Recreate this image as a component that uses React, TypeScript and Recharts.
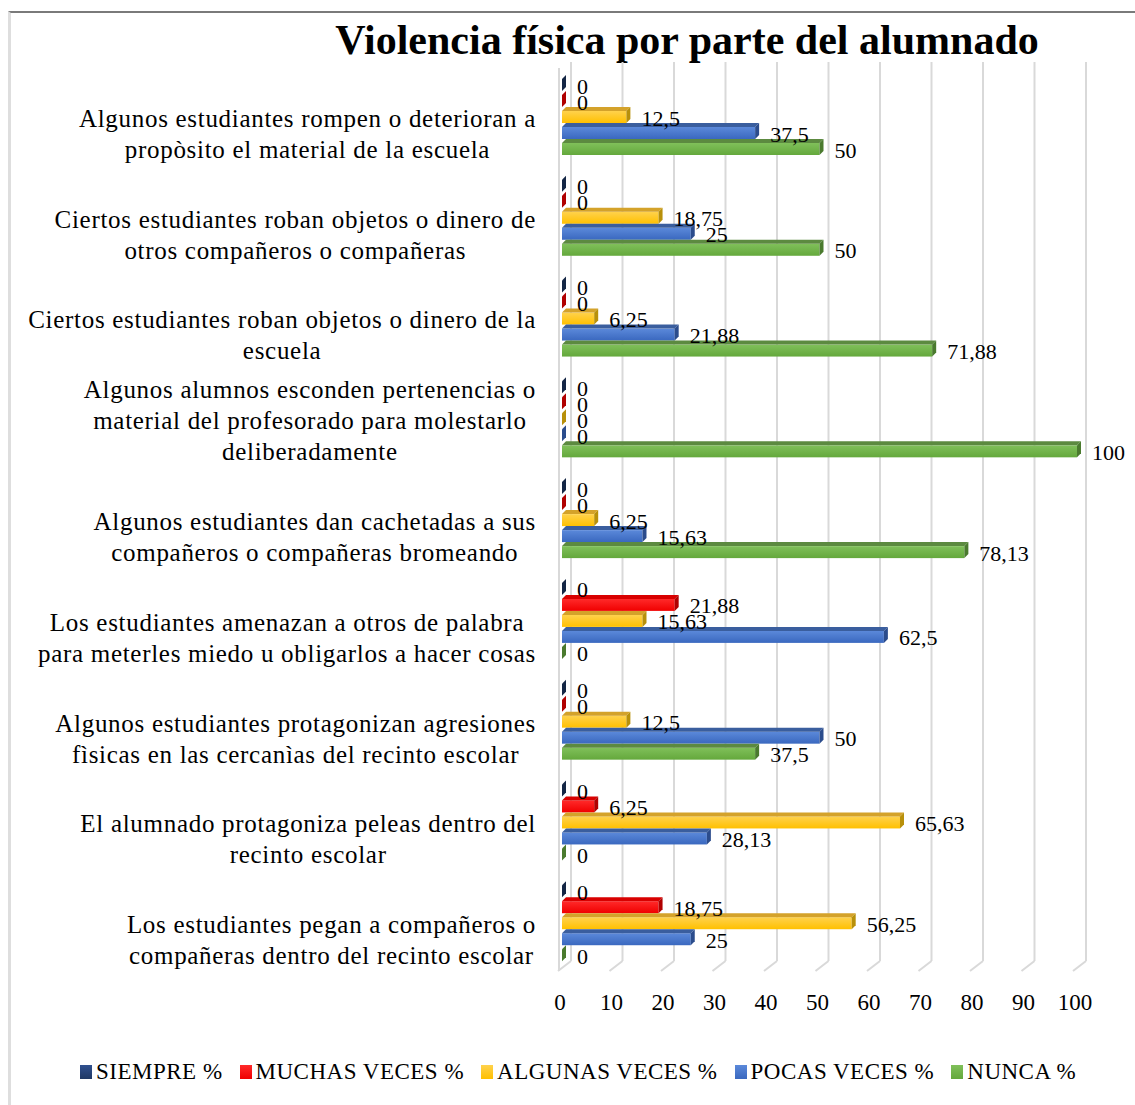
import React from 'react';
import { BarChart, Bar, XAxis, YAxis, CartesianGrid, LabelList } from 'recharts';

const categories: string[] = [
  'Algunos estudiantes rompen o deterioran a\npropòsito el material de la escuela',
  'Ciertos estudiantes roban objetos o dinero de\notros compañeros o compañeras',
  'Ciertos estudiantes roban objetos o dinero de la\nescuela',
  'Algunos alumnos esconden pertenencias o\nmaterial del profesorado para molestarlo\ndeliberadamente',
  'Algunos estudiantes dan cachetadas a sus\ncompañeros o compañeras bromeando',
  'Los estudiantes amenazan a otros de palabra\npara meterles miedo u obligarlos a hacer cosas',
  'Algunos estudiantes protagonizan agresiones\nfìsicas en las cercanìas del recinto escolar',
  'El alumnado protagoniza peleas dentro del\nrecinto escolar',
  'Los estudiantes pegan a compañeros o\ncompañeras dentro del recinto escolar',
];

const siempre = [0, 0, 0, 0, 0, 0, 0, 0, 0];
const muchasVeces = [0, 0, 0, 0, 0, 21.88, 0, 6.25, 18.75];
const algunasVeces = [12.5, 18.75, 6.25, 0, 6.25, 15.63, 12.5, 65.63, 56.25];
const pocasVeces = [37.5, 25, 21.88, 0, 15.63, 62.5, 50, 28.13, 25];
const nunca = [50, 50, 71.88, 100, 78.13, 0, 37.5, 0, 0];

const xTicks = [0, 10, 20, 30, 40, 50, 60, 70, 80, 90, 100];

const seriesNames = ['SIEMPRE %', 'MUCHAS VECES %', 'ALGUNAS VECES %', 'POCAS VECES %', 'NUNCA %'];
const seriesKeys = ['siempre', 'muchas', 'algunas', 'pocas', 'nunca'];

const palette = [
  { base: '#1F3864', light: '#30508F', top: '#2A4578', dark: '#142645' },
  { base: '#F00000', light: '#FF2A2A', top: '#D80000', dark: '#B00000' },
  { base: '#FFC000', light: '#FFD24D', top: '#D4A22A', dark: '#B8900A' },
  { base: '#3A68BF', light: '#5B89DA', top: '#3A5E9E', dark: '#2B4C8C' },
  { base: '#64A83C', light: '#80C05A', top: '#5C8A40', dark: '#4A7A2E' },
];

const data = categories.map((name, i) => ({
  name,
  siempre: siempre[i],
  muchas: muchasVeces[i],
  algunas: algunasVeces[i],
  pocas: pocasVeces[i],
  nunca: nunca[i],
}));

const FONT = "'Liberation Serif', 'Times New Roman', serif";
const CAT_SIZE = 25;
const CAT_LS = 0.7;

let ctx: CanvasRenderingContext2D | null = null;
const measure = (s: string, size: number, ls: number) => {
  if (!ctx) {
    const c = document.createElement('canvas');
    ctx = c.getContext('2d');
  }
  const base = ctx ? (ctx.font = `${size}px 'Liberation Serif'`, ctx.measureText(s).width) : s.length * size * 0.45;
  return base + ls * s.length;
};

const fmt = (v: number) => String(v).replace('.', ',');

const make3DShape = (idx: number) => (props: any) => {
  const { x, y, width, height } = props;
  const d = 4;
  const w = Math.max(0, width || 0);
  const h = height;
  const c = palette[idx];
  return (
    <g>
      <rect x={x} y={y + d} width={w} height={h - d} fill={`url(#grad${idx})`} />
      <polygon points={`${x},${y + d} ${x + d},${y} ${x + w + d},${y} ${x + w},${y + d}`} fill={c.top} />
      <polygon points={`${x + w},${y + d} ${x + w + d},${y} ${x + w + d},${y + h - d} ${x + w},${y + h}`} fill={c.dark} />
    </g>
  );
};

const CategoryTick = (props: any) => {
  const { x, y, payload } = props;
  const lines: string[] = String(payload.value).split('\n');
  const maxW = Math.max(...lines.map((l) => measure(l, CAT_SIZE, CAT_LS)));
  const cx = x - maxW / 2;
  const n = lines.length;
  return (
    <g>
      {lines.map((l, i) => (
        <text
          key={i}
          x={cx}
          y={y + 4 + (i - (n - 2)) * 31}
          textAnchor="middle"
          dominantBaseline="central"
          fontFamily={FONT}
          fontSize={CAT_SIZE}
          letterSpacing={CAT_LS}
          fill="#000"
        >
          {l}
        </text>
      ))}
    </g>
  );
};

const XTick = (props: any) => {
  const { x, y, payload } = props;
  return (
    <text x={x - 2} y={y} dy="0.8em" textAnchor="middle" fontFamily={FONT} fontSize={23} fill="#000">
      {payload.value}
    </text>
  );
};

const renderValueLabel = (props: any) => {
  const { x, y, width, height, value } = props;
  return (
    <text
      x={x + Math.max(0, width) + 15}
      y={y + height / 2 + 3}
      dominantBaseline="central"
      fontFamily={FONT}
      fontSize={22}
      fill="#000"
    >
      {fmt(value)}
    </text>
  );
};

const gridLine = (p: any) => {
  const { x1, y1, y2, index } = p;
  const k = p.key ?? `g-${index}-${x1}`;
  return (
    <g key={k}>
      <line x1={x1 + 9} y1={y1 - 2} x2={x1 + 9} y2={y2 - 10} stroke="#d9d9d9" strokeWidth={2} />
      <line x1={x1 + 9} y1={y2 - 10} x2={x1 - 4} y2={y2} stroke="#d9d9d9" strokeWidth={2} />
      {x1 < 570 && x1 > 550 ? (
        <line x1={x1 - 3} y1={y1 + 4} x2={x1 - 3} y2={y2} stroke="#d9d9d9" strokeWidth={2} />
      ) : null}
    </g>
  );
};

export default function App() {
  return (
    <div style={{ position: 'absolute', left: 0, top: 0, width: 1135, height: 1105, background: '#fff', overflow: 'hidden' }}>
      <div
        style={{
          position: 'absolute',
          left: 8,
          top: 11,
          width: 1140,
          height: 1110,
          borderTop: '2px solid #7a7a7a',
          borderLeft: '3px solid #dedede',
          boxSizing: 'border-box',
        }}
      />
      <div
        style={{
          position: 'absolute',
          left: 287,
          top: 19,
          width: 800,
          textAlign: 'center',
          fontFamily: FONT,
          fontWeight: 'bold',
          fontSize: 42,
          lineHeight: '42px',
          color: '#000',
        }}
      >
        Violencia física por parte del alumnado
      </div>
      <div style={{ position: 'absolute', left: 0, top: 0 }}>
        <BarChart
          width={1135}
          height={1105}
          data={data}
          layout="vertical"
          margin={{ top: 64, right: 58, bottom: 94, left: 0 }}
          barCategoryGap={11}
          barGap={0}
        >
          <defs>
            {palette.map((c, i) => (
              <linearGradient key={i} id={`grad${i}`} x1="0" y1="0" x2="0" y2="1">
                <stop offset="0%" stopColor={c.light} />
                <stop offset="100%" stopColor={c.base} />
              </linearGradient>
            ))}
          </defs>
          <CartesianGrid horizontal={false} vertical={gridLine} />
          <XAxis
            type="number"
            domain={[0, 100]}
            ticks={xTicks}
            axisLine={false}
            tickLine={false}
            tickSize={0}
            tickMargin={21}
            height={40}
            tick={<XTick />}
            interval={0}
          />
          <YAxis
            type="category"
            dataKey="name"
            width={562}
            axisLine={false}
            tickLine={false}
            tickSize={0}
            tickMargin={26}
            tick={<CategoryTick />}
            interval={0}
          />
          {seriesKeys.map((k, i) => (
            <Bar key={k} dataKey={k} name={seriesNames[i]} fill={palette[i].base} isAnimationActive={false} shape={make3DShape(i)}>
              <LabelList dataKey={k} content={renderValueLabel} />
            </Bar>
          ))}
        </BarChart>
      </div>
      <div
        style={{
          position: 'absolute',
          left: 80,
          top: 1059,
          display: 'flex',
          alignItems: 'center',
          fontFamily: FONT,
          fontSize: 23,
          letterSpacing: 0.5,
          color: '#000',
          whiteSpace: 'nowrap',
        }}
      >
        {seriesNames.map((n, i) => (
          <div key={n} style={{ display: 'flex', alignItems: 'center', marginRight: 17 }}>
            <span
              style={{
                display: 'inline-block',
                width: 12,
                height: 14,
                marginRight: 4,
                background: `linear-gradient(${palette[i].light}, ${palette[i].base})`,
              }}
            />
            <span>{n}</span>
          </div>
        ))}
      </div>
    </div>
  );
}
